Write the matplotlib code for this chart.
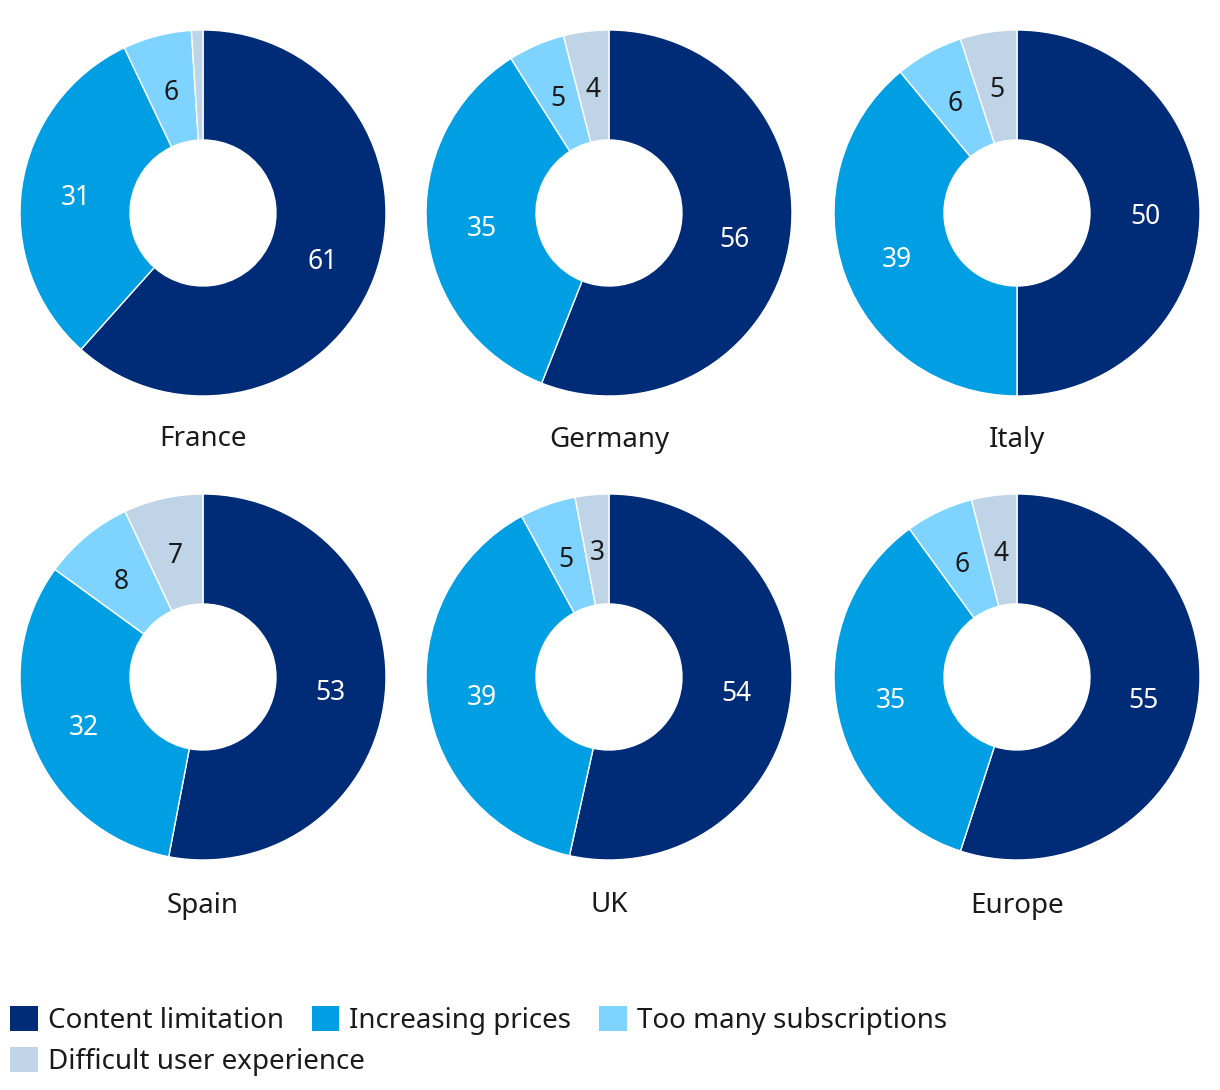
import numpy as np
import matplotlib.pyplot as plt
from matplotlib.patches import Patch

plt.rcParams['font.family'] = ['Noto Sans', 'DejaVu Sans']

categories = ['Content limitation', 'Increasing prices', 'Too many subscriptions', 'Difficult user experience']
countries = ['France', 'Germany', 'Italy', 'Spain', 'UK', 'Europe']
france = [61, 31, 6, 1]
germany = [56, 35, 5, 4]
italy = [50, 39, 6, 5]
spain = [53, 32, 8, 7]
uk = [54, 39, 5, 3]
europe = [55, 35, 6, 4]
values = [france, germany, italy, spain, uk, europe]

colors = ['#002b76', '#009fe3', '#7fd4ff', '#bfd4e6']
text_colors = ['white', 'white', '#1a1a1a', '#1a1a1a']

W, H = 1220, 1090
fig = plt.figure(figsize=(W / 100, H / 100), dpi=100)

centers_x = [203, 609, 1017]
centers_y = [213, 677]
title_y = [436, 902]
R = 183
inner = 73
mid = (R + inner) / 2 / R

for i, (name, vals) in enumerate(zip(countries, values)):
    cx = centers_x[i % 3]
    cy = centers_y[i // 3]
    ax = fig.add_axes([(cx - R) / W, 1 - (cy + R) / H, 2 * R / W, 2 * R / H])
    ax.pie(vals, colors=colors, startangle=90, counterclock=False, radius=1,
           wedgeprops=dict(width=1 - inner / R, edgecolor='white', linewidth=1))
    total = sum(vals)
    start = 90
    for v, tc in zip(vals, text_colors):
        ang = start - v / total * 360 / 2
        start -= v / total * 360
        if v < 3:
            continue
        ax.text(mid * np.cos(np.radians(ang)), mid * np.sin(np.radians(ang)), str(v),
                ha='center', va='center_baseline', color=tc, fontsize=19)
    ax.set_xlim(-1, 1)
    ax.set_ylim(-1, 1)
    ax.set_aspect('equal')
    ax.axis('off')
    fig.text(cx / W, 1 - title_y[i // 3] / H, name, ha='center', va='center_baseline',
             fontsize=20, color='#1a1a1a')

handles = [Patch(facecolor=c, edgecolor='none', label=l) for c, l in zip(colors, categories)]
leg_kw = dict(loc='upper left', frameon=False, fontsize=20, handlelength=1.0, handleheight=1.0,
              handletextpad=0.36, columnspacing=1.0, borderpad=0, borderaxespad=0,
              labelcolor='#1a1a1a')
# two legends so the first row keeps its own column widths
fig.legend(handles=handles[:3], ncol=3, bbox_to_anchor=(10 / W, 1 - 1006 / H), **leg_kw)
fig.legend(handles=handles[3:], ncol=1, bbox_to_anchor=(10 / W, 1 - 1047 / H), **leg_kw)

fig.savefig('out.png', dpi=100, facecolor='white')
